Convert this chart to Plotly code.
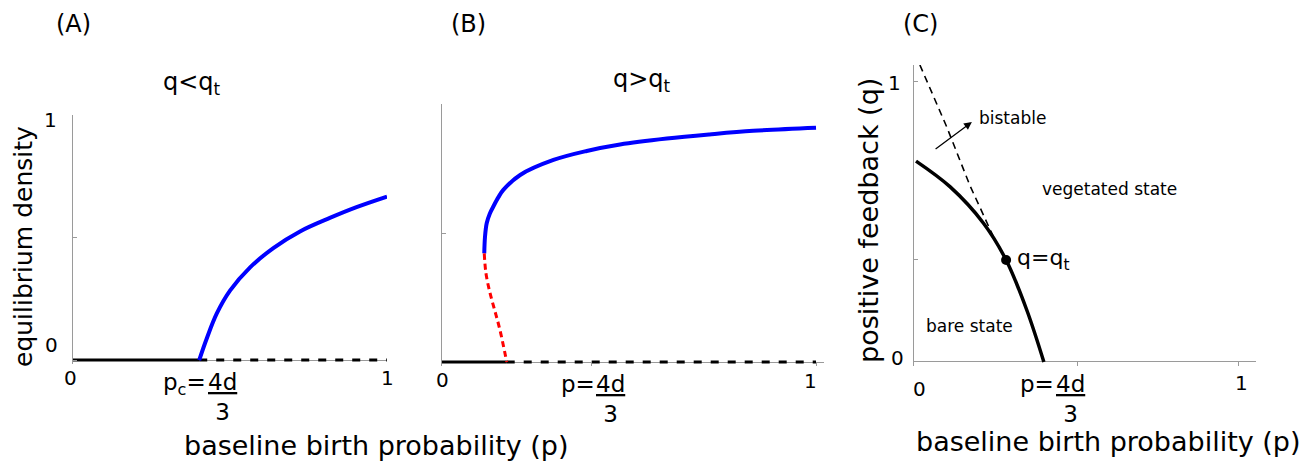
import plotly.graph_objects as go

W, H = 1307, 462
OFF = 8  # the page body has an 8px margin, so the figure starts 8px in
FIG_W, FIG_H = W - OFF, H - OFF
FONT = "DejaVu Sans"
GREY = "#9a9a9a"

# (A) q < q_t : bare state then a single stable vegetated branch
a_bare_p = [0.0, 0.402]
a_unstable_p = [0.402, 1.0]
a_stable_p = [0.402, 0.426, 0.458, 0.500, 0.564, 0.638, 0.723, 0.818, 0.903, 1.0]
a_stable_d = [0.0, 0.088, 0.190, 0.283, 0.378, 0.457, 0.525, 0.580, 0.624, 0.667]

# (B) q > q_t : fold, stable upper branch and unstable (red) branch
b_bare_p = [0.0, 0.173]
b_unstable_p = [0.173, 1.0]
b_stable_p = [0.113, 0.115, 0.1195, 0.128, 0.137, 0.1505, 0.164, 0.209, 0.298, 0.387,
              0.476, 0.601, 0.715, 0.832, 1.0]
b_stable_d = [0.421, 0.486, 0.538, 0.576, 0.602, 0.638, 0.667, 0.725, 0.783, 0.818,
              0.843, 0.866, 0.882, 0.896, 0.908]
b_saddle_p = [0.113, 0.1175, 0.128, 0.141, 0.155, 0.173]
b_saddle_d = [0.421, 0.344, 0.270, 0.200, 0.124, 0.0]

# (C) phase diagram in (p, q)
c_boundary_p = [0.0, 0.105, 0.209, 0.279, 0.343, 0.396]
c_boundary_q = [0.715, 0.624, 0.494, 0.363, 0.185, 0.0]
c_fold_p = [0.012, 0.095, 0.167, 0.240]
c_fold_q = [1.057, 0.837, 0.628, 0.445]
c_tricrit_p = [0.279]
c_tricrit_q = [0.363]

axis_ticks = {
    "a": dict(x=[0, 1], y=[0, 0.5, 1]),
    "b": dict(x=[0.4, 1], y=[0.5, 1]),
    "c": dict(x=[0.5, 1], y=[0.363, 1]),
}


def xdom(left, right):
    return [(left - OFF) / FIG_W, (right - OFF) / FIG_W]


def ydom(top, bottom):
    return [1 - (bottom - OFF) / FIG_H, 1 - (top - OFF) / FIG_H]


def line(x, y, color, width, dash="solid", xa="x", ya="y", shape="spline"):
    return go.Scatter(x=x, y=y, mode="lines", xaxis=xa, yaxis=ya, hoverinfo="skip",
                      line=dict(color=color, width=width, dash=dash, shape=shape))


fig = go.Figure()

fig.add_trace(line(a_bare_p, [0, 0], "black", 3, shape="linear"))
fig.add_trace(line(a_unstable_p, [0, 0], "black", 3, "8px,9px", shape="linear"))
fig.add_trace(line(a_stable_p, a_stable_d, "#0000ff", 4))

fig.add_trace(line(b_bare_p, [0, 0], "black", 3, xa="x2", ya="y2", shape="linear"))
fig.add_trace(line(b_unstable_p, [0, 0], "black", 3, "8px,9px", "x2", "y2", shape="linear"))
fig.add_trace(line(b_stable_p, b_stable_d, "#0000ff", 4, xa="x2", ya="y2"))
fig.add_trace(line(b_saddle_p, b_saddle_d, "#ff0000", 3, "6px,4px", "x2", "y2"))

fig.add_trace(line(c_fold_p, c_fold_q, "black", 1.6, "7px,5px", "x3", "y3", shape="linear"))
fig.add_trace(line(c_boundary_p, c_boundary_q, "black", 3.5, xa="x3", ya="y3"))
fig.add_trace(go.Scatter(x=c_tricrit_p, y=c_tricrit_q, mode="markers", xaxis="x3", yaxis="y3",
                         marker=dict(color="black", size=10), hoverinfo="skip"))

xstyle = dict(showgrid=False, zeroline=False, showline=False, ticks="inside", ticklen=4,
              tickcolor=GREY, showticklabels=False, fixedrange=True)
ystyle = dict(showgrid=False, zeroline=True, zerolinecolor=GREY, zerolinewidth=1,
              showline=True, linecolor=GREY, linewidth=1, ticks="inside", ticklen=4,
              tickcolor=GREY, showticklabels=False, fixedrange=True)

fig.update_layout(
    width=FIG_W, height=FIG_H, margin=dict(l=0, r=0, t=0, b=0),
    paper_bgcolor="white", plot_bgcolor="white", showlegend=False,
    font=dict(family=FONT, color="black", size=20),
    xaxis=dict(xstyle, domain=xdom(73, 387), range=[0, 1], tickvals=axis_ticks["a"]["x"], anchor="y"),
    yaxis=dict(ystyle, domain=ydom(115, 363.7), range=[-0.015, 1], tickvals=axis_ticks["a"]["y"], anchor="x"),
    xaxis2=dict(xstyle, domain=xdom(442, 823.5), range=[0, 1.02], tickvals=axis_ticks["b"]["x"], anchor="y2"),
    yaxis2=dict(ystyle, domain=ydom(104, 365.9), range=[-0.015, 1], tickvals=axis_ticks["b"]["y"], anchor="x2"),
    xaxis3=dict(xstyle, domain=xdom(914.4, 1256), range=[-0.005, 1.053], tickvals=axis_ticks["c"]["x"], anchor="y3"),
    yaxis3=dict(ystyle, domain=ydom(65, 366.2), range=[-0.015, 1.057], tickvals=axis_ticks["c"]["y"], anchor="x3"),
)

ann = []


def txt(text, x, y, size=20, xref="paper", yref="paper", xanchor="center", yanchor="middle",
        xshift=0, yshift=0, angle=0):
    if xref == "paper":
        x = (x - OFF) / FIG_W
    if yref == "paper":
        y = 1 - (y - OFF) / FIG_H
    ann.append(dict(text=text, x=x, y=y, xref=xref, yref=yref, xanchor=xanchor, yanchor=yanchor,
                    xshift=xshift, yshift=yshift, textangle=angle, showarrow=False,
                    font=dict(family=FONT, size=size, color="black")))


# panel letters and titles
txt("(A)", 73, 24, 24)
txt("(B)", 468, 24, 24)
txt("(C)", 920, 24, 24)
txt("q<q<sub>t</sub>", 192, 84, 24)
txt("q>q<sub>t</sub>", 642, 80, 24)

# axis titles
txt("equilibrium density", 23, 247, 25, angle=-90)
txt("baseline birth probability (p)", 376, 445, 27)
txt("positive feedback (q)", 868, 221, 27, angle=-90)
txt("baseline birth probability (p)", 1108, 441, 27)

# tick labels, panel A
txt("1", 0, 1, xref="x", yref="y", xanchor="right", xshift=-14, yshift=-5)
txt("0", 0, 0, xref="x", yref="y", xanchor="right", xshift=-13, yshift=15)
txt("0", 0, 0, xref="x", yref="y", yanchor="top", xshift=-3, yshift=-4)
txt("1", 1, 0, xref="x", yref="y", yanchor="top", yshift=-4)
txt("p<sub>c</sub>=", a_bare_p[1], 0, 23, "x", "y", xanchor="right", yanchor="top", xshift=9, yshift=-7)
txt("<u>4d</u><br>3", a_bare_p[1], 0, 23, "x", "y", yanchor="top", xshift=23, yshift=-7)

# tick labels, panel B
txt("0", 0, 0, xref="x2", yref="y2", yanchor="top", yshift=-4)
txt("1", 1, 0, xref="x2", yref="y2", yanchor="top", xshift=-6, yshift=-5)
txt("p=", 0.4, 0, 23, "x2", "y2", xanchor="right", yanchor="top", xshift=5, yshift=-7)
txt("<u>4d</u><br>3", 0.4, 0, 23, "x2", "y2", yanchor="top", xshift=19, yshift=-7)

# tick labels and region labels, panel C
txt("1", 0, 1, xref="x3", yref="y3", xanchor="right", xshift=-13, yshift=-2)
txt("0", 0, 0, xref="x3", yref="y3", xanchor="right", xshift=-10, yshift=4)
txt("0", 0, 0, xref="x3", yref="y3", yanchor="top", xshift=3, yshift=-13)
txt("1", 1, 0, xref="x3", yref="y3", yanchor="top", xshift=3, yshift=-7)
txt("p=", 0.4, 0, 23, "x3", "y3", xanchor="right", yanchor="top", xshift=11, yshift=-7)
txt("<u>4d</u><br>3", 0.4, 0, 23, "x3", "y3", yanchor="top", xshift=25, yshift=-7)
txt("bistable", 0.189, 0.868, 17, "x3", "y3", xanchor="left")
txt("vegetated state", 0.60, 0.616, 17, "x3", "y3")
txt("bare state", 0.167, 0.128, 17, "x3", "y3")
txt("q=q<sub>t</sub>", c_tricrit_p[0], c_tricrit_q[0], 22, "x3", "y3", xanchor="left", xshift=9)

ann.append(dict(x=0.173, y=0.854, ax=0.056, ay=0.754, xref="x3", yref="y3", axref="x3", ayref="y3",
                showarrow=True, arrowhead=2, arrowsize=1.2, arrowwidth=1.3, arrowcolor="black", text=""))

fig.update_layout(annotations=ann)
fig.write_html("out.html")
